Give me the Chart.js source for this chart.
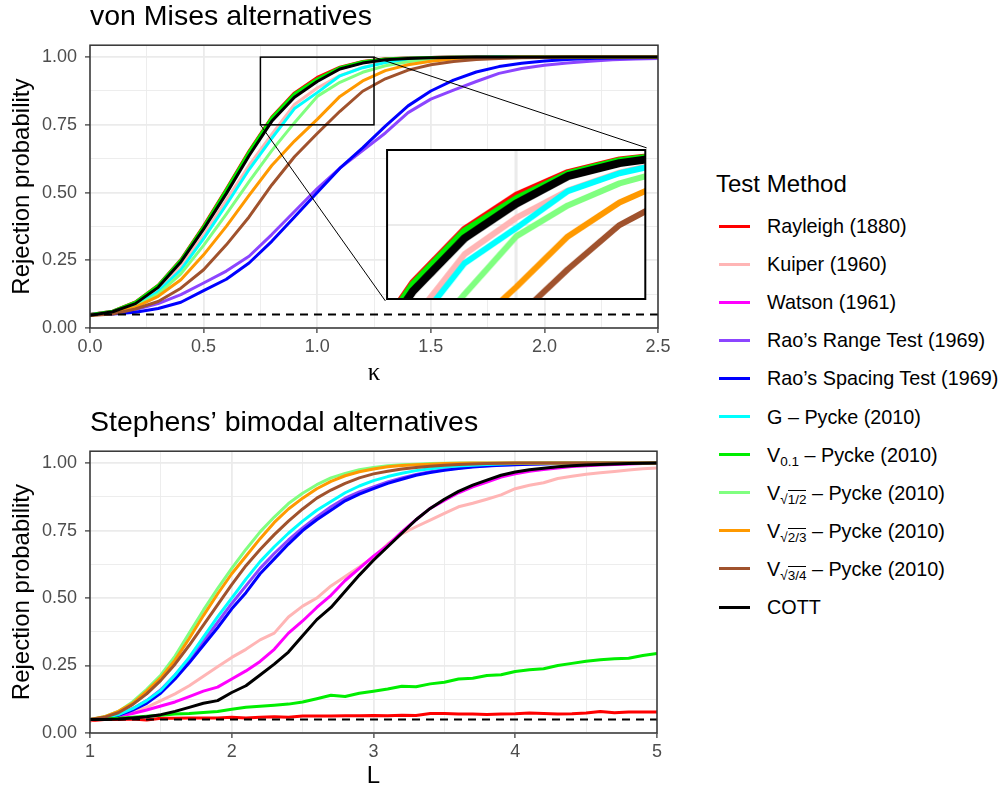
<!DOCTYPE html>
<html>
<head>
<meta charset="utf-8">
<title>Rejection probability</title>
<script src="https://cdn.jsdelivr.net/npm/chart.js@4.4.1/dist/chart.umd.min.js"></script>
<style>
  html, body { margin: 0; padding: 0; background: #fff; overflow: hidden; }
  #page { position: relative; width: 1001px; height: 791px; font-family: "Liberation Sans", Arial, Helvetica, sans-serif; }
  .wrap { position: absolute; }
  #legendTitle { position: absolute; left: 716px; top: 168px; font-size: 24px; line-height: 32px; color: #000; white-space: nowrap; }
  .row { position: absolute; left: 719px; height: 38px; line-height: 38px; white-space: nowrap; font-size: 19.8px; color: #000; }
  .swatch { position: absolute; left: 0; top: 17.5px; width: 31px; height: 3px; }
  .lbl { position: absolute; left: 48px; top: 0; }
  .lbl sub { font-size: 13.5px; vertical-align: -4px; line-height: 0; }
  .ov { border-top: 1px solid #000; padding-top: 1px; }
</style>
</head>
<body>
<div id="page">
  <div class="wrap" id="topWrap" style="left:0;top:0;width:680px;height:388px"><canvas id="vmChart"></canvas></div>
  <div class="wrap" id="botWrap" style="left:0;top:390px;width:680px;height:401px"><canvas id="sbChart"></canvas></div>
  <div class="wrap" id="insetWrap"><canvas id="insetChart"></canvas></div>
  <div id="legendTitle">Test Method</div>
  <div id="legend"></div>
</div>
<script>
// test methods, in legend order
const methods = ['Rayleigh (1880)', 'Kuiper (1960)', 'Watson (1961)', 'Rao’s Range Test (1969)',
  'Rao’s Spacing Test (1969)', 'G – Pycke (2010)', 'V0.1 – Pycke (2010)', 'V√1/2 – Pycke (2010)',
  'V√2/3 – Pycke (2010)', 'V√3/4 – Pycke (2010)', 'COTT'];
const legendLabels = ['Rayleigh (1880)', 'Kuiper (1960)', 'Watson (1961)', 'Rao’s Range Test (1969)',
  'Rao’s Spacing Test (1969)', 'G – Pycke (2010)',
  'V<sub>0.1</sub> – Pycke (2010)',
  'V<sub>√<span class="ov">1/2</span></sub> – Pycke (2010)',
  'V<sub>√<span class="ov">2/3</span></sub> – Pycke (2010)',
  'V<sub>√<span class="ov">3/4</span></sub> – Pycke (2010)',
  'COTT'];
const colors = ['#FF0000', '#FFB5B5', '#FF00FF', '#8C45FF', '#0000FF', '#00FFFF',
  '#00EE00', '#80FF80', '#FF9900', '#A0522D', '#000000'];

const alpha = 0.05;

// von Mises alternatives
const kappa = [0, 0.1, 0.2, 0.3, 0.4, 0.5, 0.6, 0.7, 0.8, 0.9, 1.0, 1.1, 1.2, 1.3, 1.4, 1.5, 1.6,
  1.7, 1.8, 1.9, 2.0, 2.1, 2.2, 2.3, 2.4, 2.5];
const vmRayleigh = [0.05, 0.062, 0.096, 0.158, 0.253, 0.377, 0.513, 0.653, 0.779, 0.868, 0.925, 0.963, 0.984, 0.994, 0.997, 0.999, 1, 1, 1, 1, 1, 1, 1, 1, 1, 1];
const vmKuiper = [0.048, 0.058, 0.086, 0.142, 0.228, 0.343, 0.472, 0.6, 0.715, 0.825, 0.886, 0.932, 0.962, 0.982, 0.992, 0.997, 0.999, 1, 1, 1, 1, 1, 1, 1, 1, 1];
const vmWatson = [0.05, 0.061, 0.093, 0.155, 0.249, 0.37, 0.505, 0.645, 0.77, 0.86, 0.915, 0.958, 0.98, 0.992, 0.997, 0.999, 1, 1, 1, 1, 1, 1, 1, 1, 1, 1];
const vmRange = [0.05, 0.055, 0.068, 0.09, 0.123, 0.166, 0.21, 0.265, 0.345, 0.43, 0.515, 0.59, 0.655, 0.72, 0.795, 0.845, 0.878, 0.91, 0.94, 0.958, 0.97, 0.978, 0.985, 0.99, 0.993, 0.995];
const vmSpacing = [0.05, 0.052, 0.058, 0.072, 0.095, 0.138, 0.18, 0.24, 0.32, 0.41, 0.5, 0.59, 0.665, 0.745, 0.82, 0.875, 0.915, 0.945, 0.965, 0.977, 0.986, 0.991, 0.995, 0.997, 0.998, 0.999];
const vmG = [0.048, 0.058, 0.083, 0.135, 0.215, 0.33, 0.455, 0.585, 0.7, 0.81, 0.869, 0.931, 0.961, 0.98, 0.99, 0.995, 0.998, 0.999, 1, 1, 1, 1, 1, 1, 1, 1];
const vmV01 = [0.05, 0.062, 0.095, 0.157, 0.251, 0.374, 0.51, 0.65, 0.776, 0.865, 0.919, 0.961, 0.983, 0.993, 0.997, 0.999, 1, 1, 1, 1, 1, 1, 1, 1, 1, 1];
const vmV12 = [0.047, 0.056, 0.08, 0.125, 0.2, 0.305, 0.42, 0.54, 0.655, 0.758, 0.855, 0.907, 0.944, 0.968, 0.983, 0.992, 0.996, 0.998, 0.999, 1, 1, 1, 1, 1, 1, 1];
const vmV23 = [0.047, 0.054, 0.077, 0.117, 0.178, 0.27, 0.375, 0.49, 0.6, 0.69, 0.77, 0.855, 0.912, 0.95, 0.972, 0.985, 0.993, 0.997, 0.999, 1, 1, 1, 1, 1, 1, 1];
const vmV34 = [0.046, 0.052, 0.07, 0.098, 0.147, 0.215, 0.307, 0.41, 0.528, 0.632, 0.718, 0.8, 0.874, 0.92, 0.952, 0.972, 0.984, 0.991, 0.995, 0.998, 0.999, 1, 1, 1, 1, 1];
const vmCOTT = [0.047, 0.06, 0.09, 0.15, 0.244, 0.365, 0.496, 0.636, 0.763, 0.852, 0.91, 0.956, 0.978, 0.99, 0.995, 0.998, 0.999, 1, 1, 1, 1, 1, 1, 1, 1, 1];

// Stephens' bimodal alternatives
const L = [1.0, 1.1, 1.2, 1.3, 1.4, 1.5, 1.6, 1.7, 1.8, 1.9, 2.0, 2.1, 2.2, 2.3, 2.4, 2.5, 2.6, 2.7,
  2.8, 2.9, 3.0, 3.1, 3.2, 3.3, 3.4, 3.5, 3.6, 3.7, 3.8, 3.9, 4.0, 4.1, 4.2, 4.3, 4.4, 4.5, 4.6,
  4.7, 4.8, 4.9, 5.0];
const sbRayleigh = [0.045, 0.05, 0.05, 0.052, 0.048, 0.055, 0.055, 0.056, 0.056, 0.056, 0.058, 0.056, 0.058, 0.06, 0.058, 0.063, 0.063, 0.063, 0.064, 0.064, 0.065, 0.064, 0.066, 0.065, 0.072, 0.072, 0.07, 0.07, 0.069, 0.07, 0.071, 0.074, 0.072, 0.07, 0.071, 0.074, 0.08, 0.075, 0.078, 0.078, 0.078];
const sbKuiper = [0.047, 0.055, 0.065, 0.08, 0.095, 0.12, 0.145, 0.175, 0.21, 0.245, 0.28, 0.31, 0.345, 0.37, 0.43, 0.47, 0.5, 0.545, 0.58, 0.615, 0.652, 0.7, 0.738, 0.764, 0.789, 0.814, 0.838, 0.851, 0.866, 0.882, 0.905, 0.918, 0.927, 0.943, 0.951, 0.959, 0.964, 0.969, 0.974, 0.979, 0.982];
const sbWatson = [0.05, 0.055, 0.062, 0.072, 0.085, 0.1, 0.115, 0.135, 0.155, 0.17, 0.2, 0.23, 0.265, 0.31, 0.37, 0.415, 0.465, 0.51, 0.565, 0.61, 0.655, 0.695, 0.745, 0.79, 0.832, 0.862, 0.89, 0.912, 0.93, 0.948, 0.96, 0.97, 0.976, 0.982, 0.987, 0.99, 0.993, 0.995, 0.997, 0.998, 0.999];
const sbRange = [0.05, 0.056, 0.067, 0.09, 0.12, 0.16, 0.215, 0.275, 0.34, 0.41, 0.48, 0.545, 0.61, 0.665, 0.715, 0.76, 0.8, 0.838, 0.87, 0.893, 0.912, 0.93, 0.945, 0.958, 0.968, 0.976, 0.982, 0.987, 0.99, 0.993, 0.995, 0.997, 0.998, 0.999, 1, 1, 1, 1, 1, 1, 1];
const sbSpacing = [0.05, 0.055, 0.065, 0.085, 0.11, 0.148, 0.2, 0.26, 0.325, 0.39, 0.46, 0.52, 0.59, 0.645, 0.7, 0.75, 0.79, 0.825, 0.86, 0.885, 0.905, 0.925, 0.94, 0.955, 0.965, 0.973, 0.98, 0.985, 0.989, 0.992, 0.994, 0.996, 0.997, 0.998, 0.999, 1, 1, 1, 1, 1, 1];
const sbG = [0.05, 0.055, 0.068, 0.09, 0.12, 0.158, 0.215, 0.28, 0.355, 0.43, 0.5, 0.57, 0.635, 0.69, 0.74, 0.785, 0.825, 0.858, 0.89, 0.915, 0.935, 0.95, 0.962, 0.972, 0.979, 0.985, 0.989, 0.992, 0.995, 0.997, 0.998, 0.999, 1, 1, 1, 1, 1, 1, 1, 1, 1];
const sbV01 = [0.05, 0.052, 0.055, 0.058, 0.062, 0.066, 0.07, 0.072, 0.076, 0.08, 0.088, 0.095, 0.099, 0.103, 0.107, 0.115, 0.127, 0.14, 0.135, 0.147, 0.155, 0.163, 0.173, 0.171, 0.182, 0.188, 0.2, 0.203, 0.213, 0.216, 0.228, 0.234, 0.238, 0.25, 0.258, 0.266, 0.271, 0.275, 0.277, 0.287, 0.295];
const sbV12 = [0.05, 0.06, 0.08, 0.115, 0.162, 0.215, 0.285, 0.37, 0.455, 0.535, 0.61, 0.68, 0.745, 0.8, 0.85, 0.888, 0.92, 0.945, 0.962, 0.975, 0.984, 0.99, 0.994, 0.996, 0.998, 0.999, 1, 1, 1, 1, 1, 1, 1, 1, 1, 1, 1, 1, 1, 1, 1];
const sbV23 = [0.05, 0.06, 0.08, 0.11, 0.155, 0.205, 0.27, 0.35, 0.435, 0.515, 0.59, 0.655, 0.72, 0.78, 0.83, 0.87, 0.905, 0.932, 0.953, 0.968, 0.978, 0.986, 0.991, 0.994, 0.996, 0.998, 0.999, 1, 1, 1, 1, 1, 1, 1, 1, 1, 1, 1, 1, 1, 1];
const sbV34 = [0.05, 0.058, 0.075, 0.105, 0.145, 0.195, 0.255, 0.325, 0.4, 0.475, 0.55, 0.62, 0.68, 0.735, 0.785, 0.83, 0.87, 0.9, 0.925, 0.945, 0.96, 0.97, 0.978, 0.984, 0.988, 0.992, 0.995, 0.997, 0.998, 0.999, 1, 1, 1, 1, 1, 1, 1, 1, 1, 1, 1];
const sbCOTT = [0.05, 0.05, 0.052, 0.056, 0.06, 0.068, 0.08, 0.095, 0.11, 0.12, 0.15, 0.175, 0.215, 0.255, 0.3, 0.36, 0.42, 0.465, 0.525, 0.585, 0.64, 0.69, 0.74, 0.79, 0.832, 0.866, 0.895, 0.918, 0.937, 0.955, 0.967, 0.975, 0.981, 0.986, 0.99, 0.993, 0.995, 0.997, 0.998, 0.999, 1];

// ticks
const yMajor = [0, 0.25, 0.5, 0.75, 1];
const yMinor = [0.125, 0.375, 0.625, 0.875];
const yLabels = ['0.00', '0.25', '0.50', '0.75', '1.00'];
const vmXMajor = [0, 0.5, 1, 1.5, 2, 2.5];
const vmXMinor = [0.25, 0.75, 1.25, 1.75, 2.25];
const vmXLabels = ['0.0', '0.5', '1.0', '1.5', '2.0', '2.5'];
const sbXMajor = [1, 2, 3, 4, 5];
const sbXMinor = [1.5, 2.5, 3.5, 4.5];
const sbXLabels = ['1', '2', '3', '4', '5'];
const insetXTicks = [1];
const insetYTicks = [0.875];

// zoomed region of the top panel and where its magnified copy sits (data units of the top panel)
const zoomBox = { xmin: 0.75, xmax: 1.25, ymin: 0.75, ymax: 1.0 };
const insetBox = { xmin: 1.3, xmax: 2.45, ymin: 0.1, ymax: 0.665 };

const vmSeries = [vmRayleigh, vmKuiper, vmWatson, vmRange, vmSpacing, vmG, vmV01, vmV12, vmV23, vmV34, vmCOTT];
const sbSeries = [sbRayleigh, sbKuiper, sbWatson, sbRange, sbSpacing, sbG, sbV01, sbV12, sbV23, sbV34, sbCOTT];

Chart.defaults.font.family = '"Liberation Sans", Arial, Helvetica, sans-serif';

function lineSets(xs, series, width, cottWidth) {
    return series.map((vals, i) => ({
        label: methods[i],
        data: xs.map((x, j) => ({ x: x, y: vals[j] })),
        borderColor: colors[i],
        backgroundColor: colors[i],
        borderWidth: i === series.length - 1 ? cottWidth : width,
        borderJoinStyle: 'round',
        pointRadius: 0,
        fill: false,
        clip: 0,
        order: series.length - i
    }));
}

function alphaLine(xs) {
    return {
        label: 'alpha',
        data: [{ x: xs[0], y: alpha }, { x: xs[xs.length - 1], y: alpha }],
        borderColor: '#000',
        borderWidth: 2,
        borderDash: [8, 6],
        pointRadius: 0,
        clip: 0,
        order: -1
    };
}

function tickLabel(v, major, labels) {
    const i = major.indexOf(v);
    return i >= 0 ? labels[i] : '';
}

function gridFor(major) {
    return {
        color: '#EBEBEB',
        lineWidth: c => major.includes(c.tick.value) ? 1.8 : 0.9,
        tickColor: c => major.includes(c.tick.value) ? '#333333' : 'rgba(0,0,0,0)',
        tickWidth: 1.2,
        tickLength: 5
    };
}

function panelOptions(title, xTitle, xTitleFont, xMin, xMax, xMajor, xMinor, xLabels, pad) {
    return {
        responsive: true,
        maintainAspectRatio: false,
        animation: false,
        events: [],
        layout: { padding: pad },
        plugins: {
            legend: { display: false },
            tooltip: { enabled: false },
            title: {
                display: true, text: title, align: 'start', fullSize: false,
                color: '#000', font: { size: 28.5, weight: 'normal' },
                padding: { top: 0, bottom: 11 }
            }
        },
        scales: {
            x: {
                type: 'linear', min: xMin, max: xMax,
                afterFit: s => { s.height = pad.xAxis; },
                afterBuildTicks: s => { s.ticks = xMajor.concat(xMinor).sort((a, b) => a - b).map(v => ({ value: v })); },
                ticks: { autoSkip: false, maxRotation: 0, padding: 3, color: '#4D4D4D', font: { size: 18 },
                    callback: v => tickLabel(v, xMajor, xLabels) },
                grid: gridFor(xMajor),
                border: { display: false },
                title: { display: true, text: xTitle, color: '#000', font: xTitleFont, padding: { top: 0, bottom: pad.xTitle } }
            },
            y: {
                min: 0, max: 1.044,
                afterFit: s => { s.width = 90; },
                afterBuildTicks: s => { s.ticks = yMajor.concat(yMinor).sort((a, b) => a - b).map(v => ({ value: v })); },
                ticks: { autoSkip: false, padding: 8, color: '#4D4D4D', font: { size: 18 },
                    callback: v => tickLabel(v, yMajor, yLabels) },
                grid: gridFor(yMajor),
                border: { display: false },
                title: { display: true, text: 'Rejection probability', color: '#000', font: { size: 24 }, padding: { top: 8, bottom: 0 } }
            }
        }
    };
}

const panelBorder = {
    id: 'panelBorder',
    afterDraw(chart) {
        const { left, top, right, bottom } = chart.chartArea;
        const ctx = chart.ctx;
        ctx.save();
        ctx.strokeStyle = '#333333';
        ctx.lineWidth = 1.5;
        ctx.strokeRect(left, top, right - left, bottom - top);
        ctx.restore();
    }
};

// box around the zoomed region plus the two connector lines
const zoomMarks = {
    id: 'zoomMarks',
    afterDatasetsDraw(chart) {
        const xs = chart.scales.x, ys = chart.scales.y, ctx = chart.ctx;
        const zx1 = xs.getPixelForValue(zoomBox.xmin), zx2 = xs.getPixelForValue(zoomBox.xmax);
        const zy1 = ys.getPixelForValue(zoomBox.ymax), zy2 = ys.getPixelForValue(zoomBox.ymin);
        const ix1 = xs.getPixelForValue(insetBox.xmin), ix2 = xs.getPixelForValue(insetBox.xmax);
        const iy1 = ys.getPixelForValue(insetBox.ymax), iy2 = ys.getPixelForValue(insetBox.ymin);
        ctx.save();
        ctx.strokeStyle = '#000';
        ctx.lineWidth = 1.5;
        ctx.strokeRect(zx1, zy1, zx2 - zx1, zy2 - zy1);
        ctx.lineWidth = 1;
        ctx.beginPath();
        ctx.moveTo(zx1, zy2); ctx.lineTo(ix1, iy2);
        ctx.moveTo(zx2, zy1); ctx.lineTo(ix2, iy1);
        ctx.stroke();
        ctx.restore();
    }
};

const vmChart = new Chart(document.getElementById('vmChart'), {
    type: 'line',
    data: { datasets: lineSets(kappa, vmSeries, 3, 3).concat([alphaLine(kappa)]) },
    options: panelOptions('von Mises alternatives', 'κ', { size: 25, family: '"Liberation Serif", "DejaVu Serif", serif' },
        0, 2.5, vmXMajor, vmXMinor, vmXLabels,
        { top: 0, right: 22, bottom: 0, left: 0, xAxis: 60, xTitle: 0 }),
    plugins: [zoomMarks, panelBorder]
});

new Chart(document.getElementById('sbChart'), {
    type: 'line',
    data: { datasets: lineSets(L, sbSeries, 3, 3).concat([alphaLine(L)]) },
    options: panelOptions('Stephens’ bimodal alternatives', 'L', { size: 24 }, 1, 5, sbXMajor, sbXMinor, sbXLabels,
        { top: 16, right: 23, bottom: 0, left: 0, xAxis: 58, xTitle: 0 }),
    plugins: [panelBorder]
});

// place the inset canvas over the top panel
const vx = vmChart.scales.x, vy = vmChart.scales.y;
const ipad = 2;
const insetLeft = vx.getPixelForValue(insetBox.xmin), insetRight = vx.getPixelForValue(insetBox.xmax);
const insetTop = vy.getPixelForValue(insetBox.ymax), insetBottom = vy.getPixelForValue(insetBox.ymin);
const insetWrap = document.getElementById('insetWrap');
insetWrap.style.left = (insetLeft - ipad) + 'px';
insetWrap.style.top = (insetTop - ipad) + 'px';
insetWrap.style.width = (insetRight - insetLeft + 2 * ipad) + 'px';
insetWrap.style.height = (insetBottom - insetTop + 2 * ipad) + 'px';

const insetFrame = {
    id: 'insetFrame',
    beforeDraw(chart) {
        const { left, top, right, bottom } = chart.chartArea;
        chart.ctx.save();
        chart.ctx.fillStyle = '#fff';
        chart.ctx.fillRect(left, top, right - left, bottom - top);
        chart.ctx.restore();
    },
    afterDraw(chart) {
        const { left, top, right, bottom } = chart.chartArea;
        const ctx = chart.ctx;
        ctx.save();
        ctx.strokeStyle = '#000';
        ctx.lineWidth = 2;
        ctx.strokeRect(left, top, right - left, bottom - top);
        ctx.restore();
    }
};

new Chart(document.getElementById('insetChart'), {
    type: 'line',
    data: { datasets: lineSets(kappa, vmSeries, 6, 8) },
    options: {
        responsive: true,
        maintainAspectRatio: false,
        animation: false,
        events: [],
        layout: { padding: ipad },
        plugins: { legend: { display: false }, tooltip: { enabled: false } },
        scales: {
            x: {
                type: 'linear', min: zoomBox.xmin, max: zoomBox.xmax,
                afterFit: s => { s.height = 0; },
                afterBuildTicks: s => { s.ticks = insetXTicks.map(v => ({ value: v })); },
                ticks: { display: false },
                grid: { color: '#EBEBEB', lineWidth: 3, drawTicks: false },
                border: { display: false }
            },
            y: {
                min: zoomBox.ymin, max: zoomBox.ymax,
                afterFit: s => { s.width = 0; },
                afterBuildTicks: s => { s.ticks = insetYTicks.map(v => ({ value: v })); },
                ticks: { display: false },
                grid: { color: '#EBEBEB', lineWidth: 2, drawTicks: false },
                border: { display: false }
            }
        }
    },
    plugins: [insetFrame]
});

// legend
const legend = document.getElementById('legend');
legendLabels.forEach((html, i) => {
    const row = document.createElement('div');
    row.className = 'row';
    row.style.top = (207 + i * 38.1) + 'px';
    row.innerHTML = '<div class="swatch" style="background:' + colors[i] + '"></div><div class="lbl">' + html + '</div>';
    legend.appendChild(row);
});
</script>
</body>
</html>
